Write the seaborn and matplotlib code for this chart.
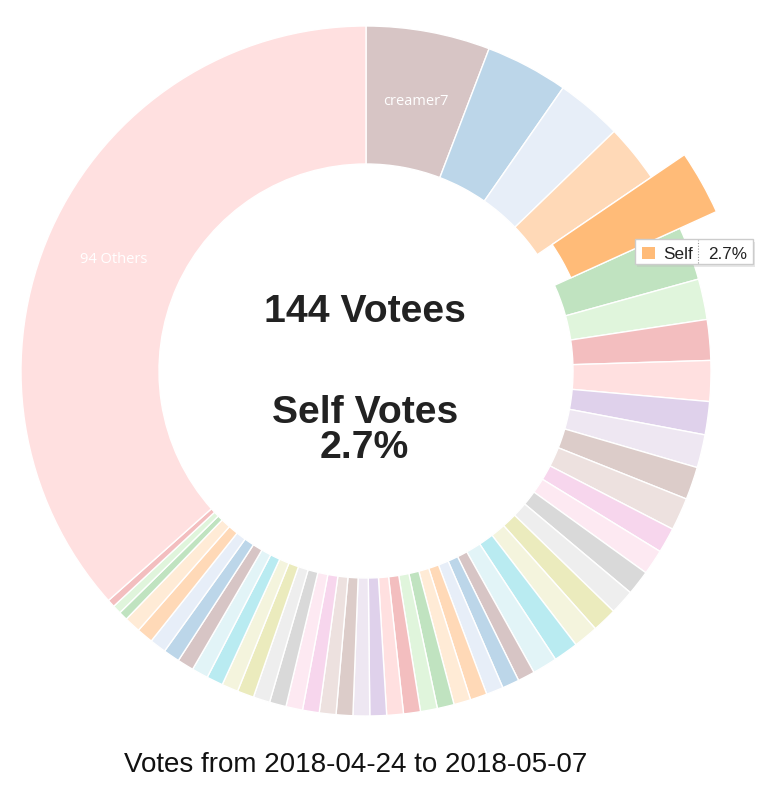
import matplotlib
matplotlib.use("Agg")
import matplotlib.pyplot as plt
import seaborn as sns
import numpy as np
from matplotlib.patches import Rectangle

# ---------------- data ----------------
slice_labels = (["creamer7", "", "", "", "Self"] + [""] * 45 + ["94 Others"])
shown_labels = ["creamer7", "94 Others"]
vote_share = [5.8, 3.87, 3.1, 2.72, 2.7, 2.5, 1.9, 1.9, 1.9, 1.55, 1.55,
              1.53, 1.53, 1.18, 1.18, 1.16, 1.16, 1.16, 1.16, 1.16, 1.16,
              0.80, 0.80, 0.80, 0.79, 0.79, 0.79, 0.79, 0.79, 0.78, 0.78,
              0.78, 0.78, 0.78, 0.78, 0.78, 0.78, 0.78, 0.78, 0.77, 0.77,
              0.77, 0.77, 0.77, 0.77, 0.77, 0.76,
              0.42, 0.41, 0.36,
              36.55]
highlight = "Self"
center_lines = ["144 Votees", "Self Votes", "2.7%"]
title_text = "Votes from 2018-04-24 to 2018-05-07"
tooltip_name = "Self"
tooltip_value = "2.7%"

# ---------------- style ----------------
sns.set_theme(style="white")
plt.rcParams['font.family'] = ['Liberation Sans', 'DejaVu Sans']

tab20 = sns.color_palette("tab20")
full_palette = [matplotlib.colors.to_rgb("#8f5e5e")] + list(tab20)


def dim(c, a=0.3):
    return tuple(a * np.array(c) + (1 - a) * 1.0)


colors = []
for i, lab in enumerate(slice_labels):
    c = full_palette[i % len(full_palette)]
    colors.append(c if lab == highlight else dim(c, 0.36 if i % 21 == 0 else 0.3))

W, H = 768, 797
fig = plt.figure(figsize=(W / 100, H / 100), dpi=100)
ax = fig.add_axes([0, 0, 1, 1])

cx, cy = 366, H - 371
R, r_in = 345, 207

wedges, _ = ax.pie(vote_share, colors=colors, startangle=90,
                   counterclock=False, radius=R, center=(cx, cy),
                   wedgeprops=dict(width=R - r_in, edgecolor="white",
                                   linewidth=1.0))

# expanded highlighted slice
for w, lab in zip(wedges, slice_labels):
    if lab == highlight:
        w.set_radius(385)
        w.set_width(160)
        w.set_zorder(3)

# slice labels
rm = (R + r_in) / 2
for w, lab in zip(wedges, slice_labels):
    if lab in shown_labels:
        th = np.deg2rad((w.theta1 + w.theta2) / 2)
        ax.text(cx + rm * np.cos(th), cy + rm * np.sin(th) - 5, lab,
                ha="center", va="baseline", color="white", fontsize=10.5,
                family=["Open Sans", "DejaVu Sans"])

# center text
ax.text(365, H - 322, center_lines[0], ha="center", va="baseline",
        fontsize=28.2, weight="bold", color="#222222")
ax.text(365, H - 423, center_lines[1], ha="center", va="baseline",
        fontsize=28.2, weight="bold", color="#222222")
ax.text(364, H - 458, center_lines[2], ha="center", va="baseline",
        fontsize=28.2, weight="bold", color="#222222")

# bottom title
ax.text(355.5, H - 772, title_text, ha="center", va="baseline",
        fontsize=20, color="#111111")

# tooltip
tx0, tx1, ty0, ty1 = 635, 753, 239, 264
ax.add_patch(Rectangle((tx0 + 2, H - ty1 - 3), tx1 - tx0, ty1 - ty0,
                       facecolor="#bbbbbb", edgecolor="none", alpha=0.35,
                       zorder=9))
ax.add_patch(Rectangle((tx0, H - ty1), tx1 - tx0, ty1 - ty0,
                       facecolor="white", edgecolor="#cccccc", linewidth=1,
                       zorder=10))
hl_color = [c for c, lab in zip(colors, slice_labels) if lab == highlight][0]
ax.add_patch(Rectangle((642, H - 259), 13, 12, facecolor=hl_color,
                       edgecolor="none", zorder=11))
ax.plot([698, 698], [H - ty1 + 1, H - ty0 - 1], linestyle=(0, (1, 1.5)),
        color="#999999", linewidth=0.8, zorder=11)
ax.text(663, H - 259, tooltip_name, ha="left", va="baseline", fontsize=12.3,
        color="#222222", zorder=12)
ax.text(708, H - 259, tooltip_value, ha="left", va="baseline", fontsize=12.3,
        color="#222222", zorder=12)

ax.set_xlim(0, W)
ax.set_ylim(0, H)
ax.set_aspect("equal")
ax.axis("off")

fig.savefig("out.png", dpi=100, facecolor="white")
